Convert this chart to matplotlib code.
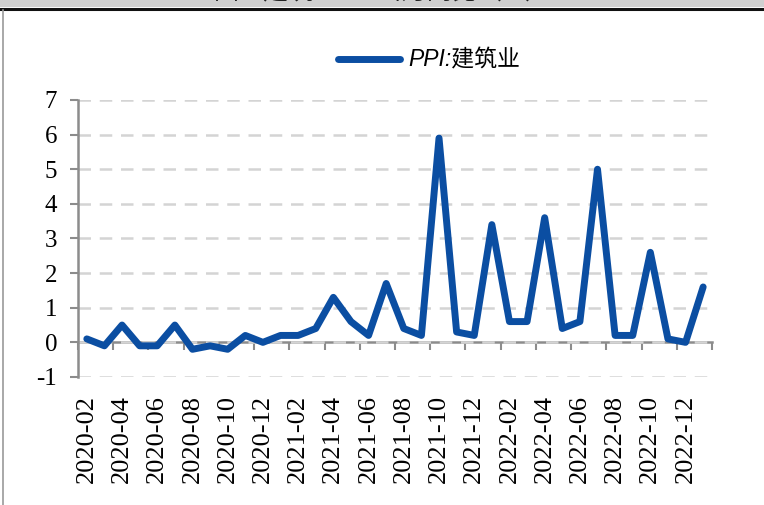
import matplotlib
matplotlib.use("Agg")
import matplotlib.pyplot as plt
from matplotlib.lines import Line2D
from matplotlib.patches import Rectangle

# monthly PPI: construction, 2020-02 .. 2023-01
months = [
    "2020-02", "2020-03", "2020-04", "2020-05", "2020-06", "2020-07",
    "2020-08", "2020-09", "2020-10", "2020-11", "2020-12", "2021-01",
    "2021-02", "2021-03", "2021-04", "2021-05", "2021-06", "2021-07",
    "2021-08", "2021-09", "2021-10", "2021-11", "2021-12", "2022-01",
    "2022-02", "2022-03", "2022-04", "2022-05", "2022-06", "2022-07",
    "2022-08", "2022-09", "2022-10", "2022-11", "2022-12", "2023-01",
]
ppi_build = [
    0.1, -0.1, 0.5, -0.1, -0.1, 0.5,
    -0.2, -0.1, -0.2, 0.2, 0.0, 0.2,
    0.2, 0.4, 1.3, 0.6, 0.2, 1.7,
    0.4, 0.2, 5.9, 0.3, 0.2, 3.4,
    0.6, 0.6, 3.6, 0.4, 0.6, 5.0,
    0.2, 0.2, 2.6, 0.1, 0.0, 1.6,
]
y_ticks = [-1, 0, 1, 2, 3, 4, 5, 6, 7]
series_label = "PPI:建筑业"

BLUE = "#0b4ea2"
AXGRAY = "#8c8c8c"
GRIDGRAY = "#d4d4d4"

plt.rcParams["font.family"] = ["Liberation Serif", "Noto Sans CJK SC"]

fig = plt.figure(figsize=(7.64, 5.05), dpi=100)
ax = fig.add_axes([0.1021, 0.2535, 0.8298, 0.5485])

x = list(range(len(months)))
line, = ax.plot(x, ppi_build, color=BLUE, lw=5.0, solid_joinstyle="round",
                solid_capstyle="round", label=series_label, zorder=3)

ax.set_xlim(-0.5, len(months) - 0.5)
ax.set_ylim(y_ticks[0], y_ticks[-1])
ax.set_yticks(y_ticks)
ax.set_yticklabels([str(v) for v in y_ticks], fontsize=18)
for v in y_ticks:
    ax.axhline(v, color=GRIDGRAY, lw=1.8, ls=(0, (5, 3.5)), zorder=1)

# category labels every 2 months, at the bottom of the plot area
ax.set_xticks(x[::2])
ax.set_xticklabels(months[::2], rotation=90, fontsize=19)
ax.tick_params(axis="x", length=0, pad=13)
ax.tick_params(axis="y", direction="out", length=6, width=1.5, color=AXGRAY, pad=9)

for s in ("top", "right", "bottom"):
    ax.spines[s].set_visible(False)
ax.spines["left"].set_color(AXGRAY)
ax.spines["left"].set_linewidth(1.8)

# horizontal category axis crossing at y = 0
zero_pos = (0 - y_ticks[0]) / (y_ticks[-1] - y_ticks[0])
sec = ax.secondary_xaxis(zero_pos)
sec.set_xticks([i - 0.5 for i in x[::2]] + [len(months) - 0.5])
sec.set_xticklabels([])
sec.tick_params(direction="out", length=6, width=1.5, color=AXGRAY)
sec.spines["bottom"].set_color(AXGRAY)
sec.spines["bottom"].set_linewidth(1.8)

leg = fig.legend(handles=[line], loc="center", bbox_to_anchor=(0.562, 0.881),
                 frameon=False, handlelength=2.7, handletextpad=0.35,
                 prop={"family": ["Liberation Sans", "Noto Sans CJK SC"],
                       "style": "italic", "size": 16.5})

# page frame: grey header strip with the cut-off caption, black rule, left border
fig.patches.append(Rectangle((0, 1 - 7 / 505), 1, 7 / 505, transform=fig.transFigure,
                             facecolor="#cfcfcf", edgecolor="none"))
fig.text(0.5, 1 - 5 / 505, "图：建筑业PPI当月同比（%）", ha="center", va="bottom",
         fontsize=18, family=["Noto Sans CJK SC"], color="#222222")
fig.lines.append(Line2D([0, 1], [1 - 9 / 505] * 2, transform=fig.transFigure,
                        color="#111111", lw=2.2))
fig.lines.append(Line2D([2.5 / 764] * 2, [0, 1 - 10 / 505], transform=fig.transFigure,
                        color="#9a9a9a", lw=1.2))

fig.savefig("out.png", dpi=100)
